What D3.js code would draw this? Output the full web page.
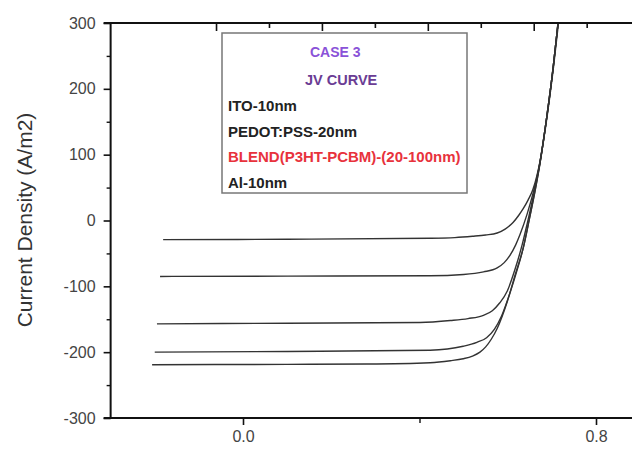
<!DOCTYPE html>
<html>
<head>
<meta charset="utf-8">
<script src="https://cdn.jsdelivr.net/npm/d3@7"></script>
<style>
    body { margin: 0; background: #fff; }
    svg  { display: block; font-family: "Liberation Sans", Arial, sans-serif; }
</style>
</head>
<body>
<script>
"use strict";

// voltage (V) / current density (A/m2), one array per curve
const curve1 = [[-0.181, -29], [0.10, -28.5], [0.424, -27], [0.48, -26], [0.52, -24],
                [0.55, -22], [0.576, -19], [0.594, -13], [0.612, -3], [0.625, 8],
                [0.635, 18], [0.646, 31], [0.657, 47], [0.674, 93], [0.690, 162],
                [0.704, 235], [0.715, 300]];
const curve2 = [[-0.188, -85], [0.10, -84.5], [0.424, -84], [0.50, -82], [0.545, -78],
                [0.576, -72], [0.592, -64], [0.605, -53], [0.618, -37], [0.628, -21],
                [0.644, 10], [0.658, 43], [0.673, 88], [0.689, 160], [0.703, 233],
                [0.714, 300]];
const curve3 = [[-0.195, -157], [0.10, -156], [0.401, -155], [0.47, -152], [0.51, -149],
                [0.545, -144], [0.565, -137], [0.582, -125], [0.599, -107], [0.617, -73],
                [0.633, -36], [0.644, -5], [0.655, 28], [0.672, 85], [0.689, 160],
                [0.703, 233], [0.714, 300]];
const curve4 = [[-0.200, -200], [0.10, -199], [0.424, -197], [0.499, -191], [0.530, -185],
                [0.552, -178], [0.570, -165], [0.586, -145], [0.605, -110], [0.620, -78],
                [0.635, -42], [0.649, 3], [0.662, 46], [0.673, 87], [0.689, 160],
                [0.703, 233], [0.714, 300]];
const curve5 = [[-0.206, -219], [0.10, -218.5], [0.281, -218], [0.424, -216], [0.47, -213],
                [0.499, -210], [0.52, -206], [0.537, -200], [0.550, -192], [0.563, -180],
                [0.576, -164], [0.599, -123], [0.617, -82], [0.635, -42], [0.649, 2],
                [0.662, 45], [0.673, 86], [0.689, 160], [0.703, 233], [0.714, 300]];
const curves = [curve1, curve2, curve3, curve4, curve5];

const yTicks      = [-300, -200, -100, 0, 100, 200, 300];
const yMinorTicks = [-250, -150, -50, 50, 150, 250];
const xTicks      = [0.0, 0.8];
const xMinorTicks = [0.4];
const topTicks    = [-0.06, 0.06, 0.18, 0.30, 0.42, 0.54, 0.66, 0.78];

const legendLines = [
    { text: "CASE 3",                      color: "#8a52d8", size: 14,   x: 310, y: 57 },
    { text: "JV CURVE",                    color: "#6a3c94", size: 14.5, x: 305, y: 85 },
    { text: "ITO-10nm",                    color: "#222",    size: 15,   x: 228, y: 111 },
    { text: "PEDOT:PSS-20nm",              color: "#222",    size: 15,   x: 228, y: 137 },
    { text: "BLEND(P3HT-PCBM)-(20-100nm)", color: "#e8323c", size: 15,   x: 228, y: 162 },
    { text: "Al-10nm",                     color: "#222",    size: 15,   x: 228, y: 188 }
];

const width = 632, height = 450;

const x = d3.scaleLinear()
            .domain([0, 0.8])
            .range([243, 596]);
const y = d3.scaleLinear()
            .domain([-300, 300])
            .range([418, 23]);
const left = x(-0.3);

const svg = d3.select("body").append("svg")
              .attr("width", width)
              .attr("height", height);

svg.append("clipPath")
   .attr("id", "plot")
   .append("rect")
   .attr("x", left)
   .attr("y", y(300))
   .attr("width", width - left)
   .attr("height", y(-300) - y(300));

// curves
const line = d3.line()
               .x(d => x(d[0]))
               .y(d => y(d[1]))
               .curve(d3.curveMonotoneX);
svg.append("g")
   .attr("clip-path", "url(#plot)")
   .selectAll("path")
   .data(curves)
   .join("path")
   .attr("d", line)
   .attr("fill", "none")
   .attr("stroke", "#333")
   .attr("stroke-width", 1.4);

// left axis
const yAxis = svg.append("g")
                 .attr("transform", `translate(${left},0)`)
                 .call(d3.axisLeft(y).tickValues(yTicks).tickSize(7).tickPadding(8)
                         .tickFormat(d => String(d)));
svg.append("g")
   .attr("transform", `translate(${left},0)`)
   .call(d3.axisLeft(y).tickValues(yMinorTicks).tickSize(4).tickFormat(""))
   .call(g => g.select(".domain").remove())
   .selectAll(".tick line").attr("stroke", "#111").attr("stroke-width", 1.4);

// bottom axis
const xAxis = svg.append("g")
                 .attr("transform", `translate(0,${y(-300)})`)
                 .call(d3.axisBottom(x).tickValues(xTicks).tickSize(7).tickPadding(6)
                         .tickFormat(d3.format(".1f")));
svg.append("g")
   .attr("transform", `translate(0,${y(-300)})`)
   .call(d3.axisBottom(x).tickValues(xMinorTicks).tickSize(5).tickFormat(""))
   .call(g => g.select(".domain").remove())
   .selectAll(".tick line").attr("stroke", "#111").attr("stroke-width", 1.4);

[yAxis, xAxis].forEach(g => {
    g.select(".domain").remove();
    g.selectAll(".tick line").attr("stroke", "#111").attr("stroke-width", 1.6);
    g.selectAll(".tick text")
     .attr("fill", "#444")
     .style("font-size", "16px")
     .style("font-family", "'Liberation Sans', Arial, sans-serif");
});

// top axis, ticks pointing inward, long and short in turn
svg.append("g")
   .selectAll("line")
   .data(topTicks)
   .join("line")
   .attr("x1", d => x(d)).attr("x2", d => x(d))
   .attr("y1", y(300))
   .attr("y2", (d, i) => y(300) + (i % 2 ? 5 : 8))
   .attr("stroke", "#111")
   .attr("stroke-width", 1.6);

// frame lines
const frame = [
    [left - 7, y(300), width, y(300)],
    [left - 7, y(-300), width, y(-300)],
    [left, y(300), left, y(-300)]
];
svg.append("g")
   .selectAll("line")
   .data(frame)
   .join("line")
   .attr("x1", d => d[0]).attr("y1", d => d[1])
   .attr("x2", d => d[2]).attr("y2", d => d[3])
   .attr("stroke", "#111")
   .attr("stroke-width", 2);

// y title
svg.append("text")
   .attr("transform", "translate(32,220) rotate(-90)")
   .attr("text-anchor", "middle")
   .attr("fill", "#333")
   .style("font-size", "21px")
   .text("Current Density (A/m2)");

// legend box
svg.append("rect")
   .attr("x", 222)
   .attr("y", 33)
   .attr("width", 245)
   .attr("height", 160)
   .attr("fill", "#fff")
   .attr("stroke", "#777")
   .attr("stroke-width", 1.5);
svg.append("g")
   .selectAll("text")
   .data(legendLines)
   .join("text")
   .attr("x", d => d.x)
   .attr("y", d => d.y)
   .attr("fill", d => d.color)
   .style("font-size", d => d.size + "px")
   .style("font-weight", "bold")
   .text(d => d.text);
</script>
</body>
</html>
